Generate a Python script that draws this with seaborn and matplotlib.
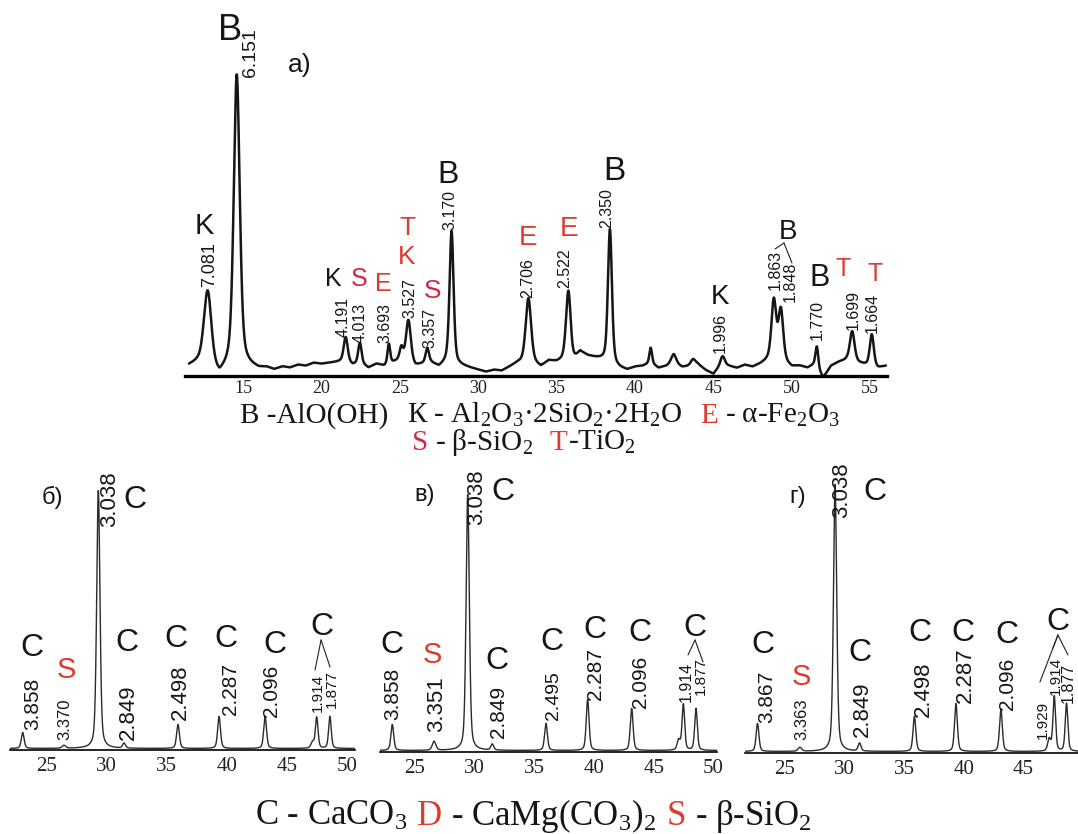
import numpy as np
import pandas as pd
import matplotlib
matplotlib.use("Agg")
import matplotlib.pyplot as plt
import seaborn as sns

# ---------------- data ----------------
# panel a) - peaks: 2theta, height above background, fwhm
a_pos = [12.75, 14.6, 21.55, 22.45, 24.3, 25.1, 25.55, 26.75, 28.3, 33.2, 35.75,
         38.4, 41.0, 42.45, 43.7, 45.6, 48.85, 49.3, 51.6, 53.85, 55.1]
a_height = [74, 289, 24, 20, 20, 12, 40, 15, 132, 64, 70,
            134, 15, 8, 6, 8, 58, 50, 20, 30, 32]
a_fwhm = [0.55, 0.45, 0.3, 0.25, 0.2, 0.25, 0.35, 0.25, 0.3, 0.4, 0.35,
          0.3, 0.2, 0.35, 0.35, 0.3, 0.35, 0.35, 0.2, 0.35, 0.3]
# panel a) - noisy background, every 0.5 deg from 11.5 to 56.0
a_bg = [10, 13, 14, 6, 0, 8, 12, 12, 9, 7, 8, 6, 9, 8, 11, 10, 13, 12, 13, 14,
        15, 11, 13, 8, 12, 10, 13, 16, 16, 10, 12, 13, 9, 14, 12, 10, 8, 6, 4, 6,
        5, 9, 13, 14, 13, 9, 15, 14, 16, 14, 24, 20, 18, 16, 12, 8, 6, 9, 10, 13,
        8, 10, 14, 9, 10, 12, 6, 2, 12, 10, 8, 11, 9, 12, 16, 18, 14, 9, 10, 8,
        12, -2, 10, 14, 16, 14, 12, 10, 8, 10]

# panels б, в, г - calcite samples
b_pos = [23.0, 26.44, 29.3, 31.44, 35.94, 39.36, 43.2, 47.15, 47.5, 48.6]
b_height = [16, 3, 258, 5, 24, 32, 32, 6, 31, 32]
v_pos = [23.1, 26.6, 29.42, 31.48, 35.98, 39.47, 43.16, 47.1, 47.49, 48.55]
v_height = [26, 9, 256, 6, 27, 51, 42, 10, 46, 42]
g_pos = [22.7, 26.25, 29.2, 31.25, 35.85, 39.33, 43.1, 47.15, 47.57, 48.6]
g_height = [28, 4, 267, 8, 35, 48, 42, 12, 55, 48]
c_fwhm = [0.28, 0.35, 0.32, 0.28, 0.28, 0.28, 0.28, 0.3, 0.26, 0.26]

a_ticks = [15, 20, 25, 30, 35, 40, 45, 50, 55]
low_ticks = [25, 30, 35, 40, 45, 50]

BLACK = "#161616"
RED = "#de3a2e"
CRIMSON = "#d42842"


def profile(x, pos, height, fwhm, eta=0.4):
    """pseudo-Voigt peak sum"""
    y = np.zeros_like(x)
    for p, h, w in zip(pos, height, fwhm):
        g = np.exp(-4 * np.log(2) * ((x - p) / w) ** 2)
        l = 1.0 / (1 + 4 * ((x - p) / w) ** 2)
        y += h * ((1 - eta) * g + eta * l)
    return y


def make_pattern(x0, x1, pos, height, fwhm, bg, bg_x=None):
    x = np.linspace(x0, x1, 3000)
    if bg_x is None:
        base = np.full_like(x, bg)
    else:
        base = np.interp(x, bg_x, bg)
    return pd.DataFrame({"two_theta": x,
                         "intensity": base + profile(x, pos, height, fwhm)})


sns.set_style("white")
plt.rcParams["font.family"] = ["Liberation Sans", "DejaVu Sans"]
plt.rcParams["mathtext.default"] = "regular"

W, H = 1078, 834
fig = plt.figure(figsize=(W / 100, H / 100), dpi=100)


def px_axes(left, right, bottom, top):
    return fig.add_axes([left / W, 1 - bottom / H, (right - left) / W, (bottom - top) / H])


def style_axis(ax, xlim, ylim, ticks, lw, tsize, pad):
    ax.set_xlim(*xlim)
    ax.set_ylim(*ylim)
    ax.set_facecolor("none")
    for s in ["left", "right", "top"]:
        ax.spines[s].set_visible(False)
    ax.spines["bottom"].set_linewidth(lw)
    ax.spines["bottom"].set_color("black")
    ax.set_yticks([])
    ax.set_xticks(ticks)
    ax.set_xticklabels([str(t) for t in ticks], fontfamily=["Liberation Serif"],
                       fontsize=tsize, color="#222222")
    ax.tick_params(axis="x", length=2, width=0.8, pad=pad, direction="out")
    ax.set_xlabel("")
    ax.set_ylabel("")


def letter(ax, x, y, s, size, color=BLACK):
    ax.text(x, y, s, ha="center", va="center", fontsize=size, color=color, clip_on=False)


def dval(ax, x, y, s, size, color=BLACK):
    ax.text(x, y, s, rotation=90, ha="center", va="bottom", fontsize=size,
            color=color, clip_on=False)


def connect(ax, p0, p1, lw=0.8):
    ax.annotate("", xy=p1, xytext=p0, xycoords="data", textcoords="data",
                arrowprops=dict(arrowstyle="-", lw=lw, color="#222222",
                                shrinkA=0, shrinkB=0), annotation_clip=False)


# ---------------- panel a) ----------------
ax_a = px_axes(185, 887, 376, 20)
bg_x = np.arange(len(a_bg)) * 0.5 + 11.5
df_a = make_pattern(11.55, 56.0, a_pos, a_height, a_fwhm, a_bg, bg_x)
sns.lineplot(data=df_a, x="two_theta", y="intensity", ax=ax_a, color=BLACK,
             lw=1.8, estimator=None, sort=False)
style_axis(ax_a, (11.3, 56.07), (0, 356), a_ticks, 2.4, 13, 1)

letter(ax_a, 14.17, 346, "B", 26)
dval(ax_a, 15.45, 299, "6.151", 14)
letter(ax_a, 18.64, 311, "а)", 19)
letter(ax_a, 12.5, 150, "K", 21)
dval(ax_a, 12.9, 89, "7.081", 13)
letter(ax_a, 20.74, 97, "K", 18)
letter(ax_a, 22.4, 97, "S", 18, CRIMSON)
letter(ax_a, 23.93, 92, "E", 18, RED)
letter(ax_a, 25.46, 148, "T", 19, RED)
letter(ax_a, 25.46, 119, "K", 19, RED)
letter(ax_a, 27.12, 85, "S", 19, CRIMSON)
dval(ax_a, 21.38, 39, "4.191", 11.5)
dval(ax_a, 22.46, 33, "4.013", 11.5)
dval(ax_a, 24.06, 33, "3.693", 11.5)
dval(ax_a, 25.65, 58, "3.527", 11.5)
dval(ax_a, 26.93, 28, "3.357", 11.5)
letter(ax_a, 28.07, 201, "B", 23)
dval(ax_a, 28.2, 146, "3.170", 11.5)
letter(ax_a, 33.18, 138, "E", 20, RED)
dval(ax_a, 33.18, 78, "2.706", 11.5)
letter(ax_a, 35.79, 147, "E", 20, RED)
dval(ax_a, 35.54, 88, "2.522", 11.5)
letter(ax_a, 38.66, 204, "B", 24)
dval(ax_a, 38.21, 148, "2.350", 11.5)
letter(ax_a, 45.42, 79, "K", 20)
dval(ax_a, 45.42, 23, "1.996", 11.5)
letter(ax_a, 49.76, 144, "B", 20)
dval(ax_a, 48.93, 86, "1.863", 11.5)
dval(ax_a, 49.89, 74, "1.848", 11.5)
connect(ax_a, (49.5, 133), (48.93, 127))
connect(ax_a, (49.5, 133), (50.01, 113))
letter(ax_a, 51.8, 98, "B", 22)
dval(ax_a, 51.61, 36, "1.770", 11.5)
letter(ax_a, 53.27, 107, "T", 18, RED)
dval(ax_a, 53.9, 46, "1.699", 11.5)
letter(ax_a, 55.31, 102, "T", 18, RED)
dval(ax_a, 55.11, 43, "1.664", 11.5)

# ---------------- panels б, в, г ----------------
ax_b = px_axes(10, 355, 750, 480)
ax_v = px_axes(380, 717, 752, 482)
ax_g = px_axes(745, 1078, 753, 483)
low = [(ax_b, b_pos, b_height, (21.94, 50.69), low_ticks),
       (ax_v, v_pos, v_height, (22.07, 50.31), low_ticks),
       (ax_g, g_pos, g_height, (21.65, 49.56), low_ticks[:-1])]
for ax, pos, hgt, xl, tk in low:
    df = make_pattern(xl[0] + 0.05, xl[1] - 0.02, pos, hgt, c_fwhm, 1.5)
    sns.lineplot(data=df, x="two_theta", y="intensity", ax=ax, color="#2b2b2b",
                 lw=1.0, estimator=None, sort=False)
    style_axis(ax, xl, (0, 270), tk, 1.2, 15, 3)

# б)
letter(ax_b, 25.44, 253, "б)", 17)
dval(ax_b, 30.28, 223, "3.038", 16)
letter(ax_b, 32.36, 250, "C", 23)
letter(ax_b, 23.78, 102, "C", 23)
dval(ax_b, 23.86, 20, "3.858", 15)
letter(ax_b, 26.6, 80, "S", 21, RED)
dval(ax_b, 26.5, 10, "3.370", 12)
letter(ax_b, 31.69, 107, "C", 23)
dval(ax_b, 31.78, 10, "2.849", 16)
letter(ax_b, 35.78, 111, "C", 23)
dval(ax_b, 36.11, 30, "2.498", 16)
letter(ax_b, 39.94, 111, "C", 23)
dval(ax_b, 40.28, 35, "2.287", 15)
letter(ax_b, 44.03, 105, "C", 23)
dval(ax_b, 43.77, 33, "2.096", 15)
letter(ax_b, 47.94, 123, "C", 23)
dval(ax_b, 47.61, 38, "1.914", 11)
dval(ax_b, 48.78, 42, "1.877", 11)
connect(ax_b, (47.86, 110), (47.36, 80))
connect(ax_b, (47.86, 110), (48.61, 83))

# в)
letter(ax_v, 25.84, 257, "в)", 17)
dval(ax_v, 30.2, 227, "3.038", 16)
letter(ax_v, 32.38, 260, "C", 23)
letter(ax_v, 23.07, 107, "C", 23)
dval(ax_v, 23.16, 32, "3.858", 15)
letter(ax_v, 26.42, 97, "S", 21, RED)
dval(ax_v, 26.84, 20, "3.351", 16)
letter(ax_v, 31.87, 91, "C", 23)
dval(ax_v, 31.96, 14, "2.849", 15)
letter(ax_v, 36.48, 110, "C", 23)
dval(ax_v, 36.57, 32, "2.495", 14)
letter(ax_v, 40.09, 122, "C", 23)
dval(ax_v, 40.09, 52, "2.287", 15)
letter(ax_v, 43.86, 119, "C", 23)
dval(ax_v, 43.86, 44, "2.096", 15)
letter(ax_v, 48.47, 124, "C", 23)
dval(ax_v, 47.75, 50, "1.914", 11.5)
dval(ax_v, 48.95, 57, "1.877", 11)
connect(ax_v, (48.47, 112), (47.88, 97))
connect(ax_v, (48.47, 112), (49.14, 90))

# г)
letter(ax_g, 26.09, 256, "г)", 17)
dval(ax_g, 29.78, 235, "3.038", 16)
letter(ax_g, 32.54, 261, "C", 23)
letter(ax_g, 23.16, 108, "C", 23)
dval(ax_g, 23.49, 30, "3.867", 15)
letter(ax_g, 26.34, 76, "S", 21, RED)
dval(ax_g, 26.42, 13, "3.363", 12)
letter(ax_g, 31.29, 100, "C", 23)
dval(ax_g, 31.45, 16, "2.849", 16)
letter(ax_g, 36.32, 120, "C", 23)
dval(ax_g, 36.57, 36, "2.498", 16)
letter(ax_g, 39.92, 120, "C", 23)
dval(ax_g, 40.09, 50, "2.287", 16)
letter(ax_g, 43.61, 118, "C", 23)
dval(ax_g, 43.69, 43, "2.096", 15)
letter(ax_g, 47.88, 131, "C", 23)
dval(ax_g, 46.6, 14, "1.929", 11)
dval(ax_g, 47.7, 58, "1.914", 11)
dval(ax_g, 48.75, 50, "1.877", 11.5)
connect(ax_g, (47.88, 118), (46.37, 71))
connect(ax_g, (47.88, 118), (47.46, 105))
connect(ax_g, (47.88, 118), (48.72, 98))

# ---------------- legends (multi-colour lines) ----------------
SERIF = ["Liberation Serif", "DejaVu Serif"]


def rich_line(parts, y_px, xc_px, size):
    texts = []
    for s, c, gap in parts:
        t = fig.text(0, 1 - y_px / H, s, color=c, fontsize=size, family=SERIF,
                     ha="left", va="baseline")
        texts.append((t, gap))
    fig.canvas.draw()
    r = fig.canvas.get_renderer()
    widths = [t.get_window_extent(r).width + g for t, g in texts]
    x = xc_px - (sum(widths) - texts[-1][1]) / 2
    for (t, g), w in zip(texts, widths):
        t.set_x(x / W)
        x += w


rich_line([("B -AlO(OH)", BLACK, 18),
           ("К - Al$_2$O$_3$·2SiO$_2$·2H$_2$O", BLACK, 18),
           ("E", RED, 7),
           ("- α-Fe$_2$O$_3$", BLACK, 0)], 423, 540, 21)
rich_line([("S", CRIMSON, 7),
           ("- β-SiO$_2$", BLACK, 16),
           ("T", RED, 1),
           ("-TiO$_2$", BLACK, 0)], 450, 524, 21)
rich_line([("C - CaCO$_3$", BLACK, 10),
           ("D", RED, 9),
           ("- CaMg(CO$_3$)$_2$", BLACK, 10),
           ("S", RED, 9),
           ("- β-SiO$_2$", BLACK, 0)], 825, 533, 25)

fig.savefig("out.png", dpi=100, facecolor="white")
